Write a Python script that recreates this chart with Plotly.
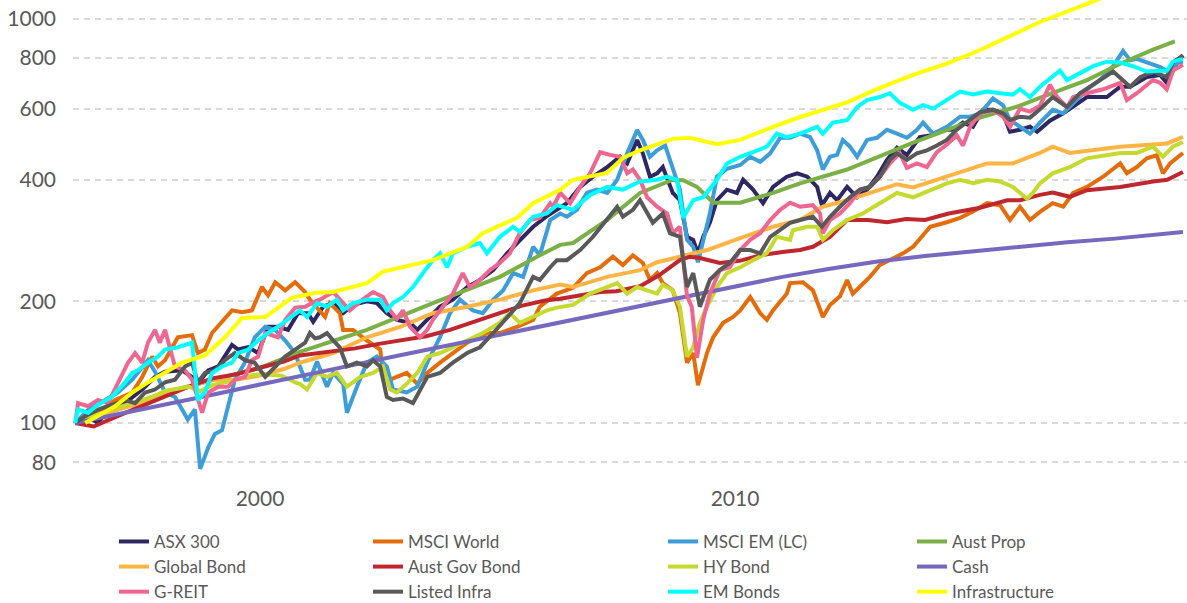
import plotly.graph_objects as go

# ---------------- data (decimal years, index values) ----------------
asx_t = [1996.11, 1996.46, 1996.59, 1996.80, 1997.16, 1997.52, 1997.79, 1998.00, 1998.36, 1998.57, 1998.69, 1998.91,
         1999.12, 1999.41, 1999.54, 1999.75, 1999.96, 2000.17, 2000.38, 2000.59, 2000.80, 2001.01, 2001.12, 2001.33,
         2001.54, 2001.75, 2001.96, 2002.25, 2002.46, 2002.67, 2002.88, 2003.16, 2003.31, 2003.52, 2003.79, 2004.06,
         2004.36, 2004.63, 2004.91, 2005.20, 2005.47, 2005.75, 2006.04, 2006.25, 2006.46, 2006.74, 2007.01, 2007.31,
         2007.58, 2007.73, 2007.94, 2008.06, 2008.21, 2008.36, 2008.48, 2008.69, 2008.84, 2008.99, 2009.12, 2009.22,
         2009.33, 2009.47, 2009.62, 2009.83, 2010.04, 2010.17, 2010.38, 2010.59, 2010.80, 2011.09, 2011.31, 2011.52,
         2011.73, 2011.83, 2012.00, 2012.15, 2012.36, 2012.57, 2012.78, 2012.99, 2013.20, 2013.41, 2013.62, 2013.89,
         2014.11, 2014.38, 2014.59, 2014.80, 2015.01, 2015.22, 2015.43, 2015.64, 2015.79, 2016.00, 2016.21, 2016.36,
         2016.63, 2016.91, 2017.41, 2017.83, 2018.11, 2018.32, 2018.67, 2018.95, 2019.09, 2019.31, 2019.43]
asx_v = [100, 102, 100, 108, 112, 121, 130, 134, 135, 130, 125, 135,
         138, 156, 152, 154, 149, 173, 173, 170, 187, 187, 178, 194,
         198, 187, 196, 200, 198, 187, 180, 177, 170, 180, 194, 202,
         217, 226, 239, 263, 284, 306, 325, 337, 350, 384, 407, 430,
         456, 439, 502, 465, 407, 415, 430, 371, 356, 289, 284, 263,
         289, 313, 356, 378, 371, 400, 378, 350, 384, 407, 415, 407,
         384, 346, 371, 356, 384, 362, 378, 407, 448, 480, 461, 510,
         515, 532, 532, 554, 541, 596, 596, 584, 526, 532, 541, 526,
         560, 584, 641, 641, 680, 680, 718, 727, 695, 780, 813]

world_t = [1996.11, 1996.59, 1996.95, 1997.31, 1997.52, 1997.73, 1997.85, 1998.00, 1998.27, 1998.57, 1998.69, 1998.84,
           1998.99, 1999.20, 1999.41, 1999.62, 1999.83, 2000.04, 2000.17, 2000.32, 2000.53, 2000.74, 2000.95, 2001.05,
           2001.26, 2001.37, 2001.47, 2001.68, 2001.75, 2001.96, 2002.25, 2002.53, 2002.59, 2002.74, 2002.88, 2003.09,
           2003.31, 2003.52, 2003.79, 2004.06, 2004.36, 2004.78, 2005.05, 2005.41, 2005.75, 2005.89, 2006.25, 2006.59,
           2006.88, 2007.16, 2007.43, 2007.64, 2007.85, 2008.06, 2008.21, 2008.36, 2008.48, 2008.69, 2008.84, 2008.99,
           2009.12, 2009.22, 2009.41, 2009.54, 2009.75, 2009.96, 2010.11, 2010.32, 2010.53, 2010.67, 2010.80, 2011.09,
           2011.16, 2011.43, 2011.64, 2011.85, 2012.00, 2012.21, 2012.36, 2012.48, 2012.63, 2012.84, 2013.05, 2013.26,
           2013.54, 2013.75, 2014.11, 2014.46, 2014.74, 2015.01, 2015.31, 2015.58, 2015.79, 2016.00, 2016.21, 2016.42,
           2016.69, 2016.91, 2017.12, 2017.41, 2017.75, 2018.11, 2018.25, 2018.46, 2018.67, 2018.88, 2019.01, 2019.16,
           2019.43]
world_v = [100, 106, 114, 119, 130, 146, 138, 143, 163, 165, 149, 152,
           167, 178, 190, 188, 190, 217, 207, 223, 213, 223, 211, 202,
           190, 183, 198, 187, 170, 170, 160, 152, 135, 128, 130, 133,
           125, 133, 141, 149, 158, 167, 167, 173, 180, 194, 209, 216,
           235, 243, 258, 246, 260, 249, 226, 235, 222, 213, 187, 141,
           149, 124, 149, 163, 177, 183, 190, 205, 187, 180, 190, 209,
           222, 223, 213, 183, 196, 206, 226, 209, 217, 230, 246, 253,
           263, 273, 306, 314, 322, 334, 350, 346, 318, 343, 318, 333,
           350, 343, 371, 384, 407, 439, 415, 430, 452, 460, 415, 439,
           466]

em_t = [1996.11, 1996.46, 1996.74, 1997.01, 1997.31, 1997.52, 1997.64, 1997.79, 1998.00, 1998.21, 1998.48, 1998.63,
        1998.74, 1998.91, 1999.05, 1999.20, 1999.33, 1999.47, 1999.68, 1999.89, 2000.11, 2000.32, 2000.53, 2000.74,
        2000.84, 2000.95, 2001.05, 2001.20, 2001.41, 2001.54, 2001.75, 2001.83, 2002.04, 2002.25, 2002.46, 2002.67,
        2002.80, 2003.09, 2003.31, 2003.52, 2003.79, 2004.00, 2004.21, 2004.48, 2004.69, 2004.91, 2005.12, 2005.33,
        2005.54, 2005.75, 2005.89, 2006.11, 2006.32, 2006.46, 2006.67, 2006.88, 2007.09, 2007.31, 2007.52, 2007.73,
        2007.94, 2008.06, 2008.21, 2008.36, 2008.53, 2008.69, 2008.84, 2008.99, 2009.12, 2009.22, 2009.33, 2009.47,
        2009.62, 2009.83, 2010.11, 2010.32, 2010.53, 2010.74, 2010.95, 2011.16, 2011.37, 2011.58, 2011.73, 2011.85,
        2012.00, 2012.15, 2012.27, 2012.42, 2012.57, 2012.78, 2012.99, 2013.20, 2013.41, 2013.62, 2013.83, 2013.96,
        2014.17, 2014.46, 2014.74, 2014.95, 2015.16, 2015.43, 2015.64, 2015.79, 2016.00, 2016.21, 2016.42, 2016.69,
        2016.91, 2017.12, 2017.41, 2017.68, 2017.96, 2018.17, 2018.32, 2018.46, 2018.67, 2018.95, 2019.16, 2019.31,
        2019.43]
em_v = [100, 110, 114, 119, 128, 138, 143, 134, 119, 116, 102, 108,
        77, 87, 94, 96, 110, 128, 141, 163, 173, 170, 160, 149,
        138, 128, 128, 142, 123, 133, 125, 106, 123, 141, 146, 138,
        121, 119, 123, 141, 163, 187, 202, 190, 187, 202, 213, 235,
        230, 273, 260, 318, 330, 324, 337, 371, 378, 371, 400, 465,
        531, 502, 456, 473, 486, 430, 378, 284, 273, 250, 284, 330,
        407, 426, 435, 456, 443, 465, 508, 508, 520, 510, 473, 424,
        456, 461, 502, 483, 456, 502, 508, 532, 520, 508, 532, 554,
        520, 541, 573, 573, 584, 636, 612, 562, 541, 520, 554, 596,
        584, 620, 670, 706, 764, 833, 790, 797, 780, 760, 736, 780,
        784]

prop_t = [1996.11, 1997.00, 1998.00, 1999.00, 2000.00, 2000.84, 2002.25, 2003.64, 2005.05, 2005.89, 2006.32, 2006.59,
          2007.31, 2008.00, 2008.69, 2008.91, 2009.20, 2009.54, 2010.11, 2010.80, 2011.37, 2012.36, 2013.75, 2015.16,
          2016.00, 2016.69, 2017.41, 2018.11, 2018.80, 2019.26]
prop_v = [100, 108, 119, 128, 137, 150, 170, 198, 230, 260, 276, 279,
          318, 371, 400, 399, 384, 351, 351, 371, 392, 424, 494, 570,
          610, 656, 706, 775, 840, 880]

gbond_t = [1996.11, 1996.50, 1997.00, 1997.50, 1998.00, 1998.50, 1999.00, 1999.50, 2000.00, 2000.50, 2000.84, 2001.54,
           2002.25, 2002.95, 2003.64, 2004.36, 2005.05, 2005.75, 2006.32, 2006.59, 2007.31, 2008.00, 2008.36, 2008.84,
           2009.41, 2010.11, 2010.80, 2011.37, 2011.85, 2012.36, 2013.41, 2013.75, 2014.46, 2015.31, 2015.85, 2016.42,
           2016.69, 2017.05, 2018.11, 2018.80, 2019.10, 2019.43]
gbond_v = [100, 103, 108, 112, 118, 123, 128, 128, 131, 136, 141, 149,
           163, 173, 187, 194, 202, 213, 220, 217, 230, 239, 250, 258,
           268, 287, 306, 318, 343, 356, 390, 383, 407, 439, 439, 466,
           483, 466, 483, 488, 492, 511]

agb_t = [1996.11, 1996.50, 1997.00, 1997.50, 1998.00, 1998.50, 1999.00, 1999.50, 2000.00, 2000.50, 2000.84, 2001.50,
         2002.00, 2002.50, 2002.95, 2003.50, 2004.00, 2004.50, 2005.05, 2005.50, 2006.00, 2006.32, 2007.16, 2007.50,
         2008.00, 2008.40, 2008.84, 2009.05, 2009.26, 2009.68, 2010.10, 2010.53, 2011.00, 2011.37, 2011.64, 2012.00,
         2012.36, 2012.80, 2013.20, 2013.60, 2014.00, 2014.50, 2015.16, 2015.73, 2016.00, 2016.42, 2016.69, 2017.05,
         2017.41, 2018.11, 2018.80, 2019.10, 2019.43]
agb_v = [100, 98, 104, 110, 116, 123, 129, 132, 137, 142, 147, 150,
         153, 157, 160, 164, 170, 178, 188, 195, 201, 203, 211, 212,
         218, 232, 253, 258, 256, 249, 252, 260, 265, 268, 273, 289,
         318, 318, 314, 320, 318, 330, 341, 356, 356, 367, 372, 363,
         377, 384, 396, 400, 418]

hy_t = [1996.11, 1996.50, 1996.88, 1997.31, 1997.73, 1998.00, 1998.50, 1998.74, 1999.00, 1999.50, 1999.75, 2000.00,
        2000.46, 2000.74, 2000.84, 2000.99, 2001.20, 2001.41, 2001.62, 2001.83, 2002.11, 2002.38, 2002.59, 2002.74,
        2002.88, 2003.09, 2003.31, 2003.52, 2003.79, 2004.06, 2004.36, 2004.69, 2005.05, 2005.26, 2005.47, 2005.75,
        2006.04, 2006.25, 2006.59, 2006.95, 2007.31, 2007.52, 2007.73, 2007.94, 2008.15, 2008.36, 2008.48, 2008.69,
        2008.84, 2008.99, 2009.12, 2009.26, 2009.41, 2009.62, 2009.83, 2010.11, 2010.38, 2010.67, 2010.88, 2011.16,
        2011.22, 2011.52, 2011.73, 2011.85, 2012.06, 2012.36, 2012.69, 2013.05, 2013.41, 2013.75, 2014.11, 2014.46,
        2014.74, 2015.01, 2015.31, 2015.58, 2015.85, 2016.15, 2016.27, 2016.42, 2016.69, 2017.05, 2017.41, 2017.75,
        2018.11, 2018.46, 2018.80, 2019.01, 2019.22, 2019.43]
hy_v = [100, 104, 108, 112, 116, 120, 123, 120, 124, 128, 131, 132,
        131, 126, 125, 121, 133, 130, 133, 123, 130, 133, 138, 121,
        119, 125, 133, 146, 149, 154, 160, 167, 177, 187, 177, 183,
        190, 193, 196, 209, 217, 222, 209, 217, 213, 209, 220, 213,
        194, 146, 154, 177, 194, 217, 235, 243, 253, 263, 289, 284,
        300, 306, 306, 284, 300, 318, 330, 350, 371, 362, 378, 392,
        400, 392, 400, 396, 384, 359, 371, 392, 415, 430, 452, 460,
        466, 466, 483, 456, 483, 496]

cash_t = [1996.11, 1997.0, 1998.0, 1999.0, 2000.0, 2001.0, 2002.0, 2003.0, 2004.0, 2005.0, 2006.0, 2007.0,
          2008.0, 2009.0, 2010.0, 2011.0, 2012.0, 2013.0, 2014.0, 2015.0, 2016.0, 2017.0, 2018.0, 2019.0, 2019.43]
cash_v = [100, 105, 111, 117.5, 124.5, 132, 139.5, 147.5, 156, 165, 174.5, 184.5,
          195, 206, 218, 230, 241, 251, 259, 266, 273, 280, 286, 293, 297]

greit_t = [1996.11, 1996.17, 1996.38, 1996.59, 1996.80, 1997.01, 1997.22, 1997.37, 1997.52, 1997.64, 1997.79, 1997.89,
           1998.00, 1998.21, 1998.42, 1998.57, 1998.69, 1998.78, 1998.91, 1999.12, 1999.33, 1999.47, 1999.68, 1999.83,
           1999.96, 2000.11, 2000.38, 2000.53, 2000.74, 2000.95, 2001.16, 2001.26, 2001.54, 2001.75, 2001.89, 2002.11,
           2002.38, 2002.59, 2002.74, 2002.88, 2003.01, 2003.16, 2003.37, 2003.52, 2003.64, 2003.85, 2004.06, 2004.27,
           2004.42, 2004.63, 2004.84, 2005.05, 2005.26, 2005.47, 2005.68, 2005.89, 2006.11, 2006.17, 2006.32, 2006.53,
           2006.74, 2006.95, 2007.16, 2007.37, 2007.58, 2007.73, 2007.85, 2008.00, 2008.15, 2008.36, 2008.57, 2008.69,
           2008.84, 2008.99, 2009.09, 2009.20, 2009.33, 2009.47, 2009.68, 2009.89, 2010.11, 2010.32, 2010.53, 2010.74,
           2010.95, 2011.16, 2011.37, 2011.64, 2011.79, 2011.85, 2012.00, 2012.21, 2012.42, 2012.63, 2012.84, 2013.05,
           2013.26, 2013.47, 2013.62, 2013.83, 2014.04, 2014.25, 2014.46, 2014.67, 2014.80, 2014.95, 2015.16, 2015.43,
           2015.64, 2015.79, 2016.00, 2016.21, 2016.42, 2016.63, 2016.78, 2016.99, 2017.12, 2017.41, 2017.75, 2018.11,
           2018.25, 2018.46, 2018.80, 2018.95, 2019.09, 2019.22, 2019.43]
greit_v = [100, 112, 110, 114, 112, 126, 141, 149, 141, 158, 170, 158,
           170, 138, 135, 128, 114, 106, 119, 123, 123, 128, 130, 143,
           146, 167, 163, 180, 193, 194, 200, 202, 211, 198, 190, 200,
           211, 205, 190, 181, 190, 173, 163, 170, 180, 194, 209, 235,
           217, 226, 239, 249, 263, 295, 318, 322, 350, 343, 371, 350,
           384, 415, 468, 461, 456, 415, 424, 400, 362, 343, 330, 295,
           306, 206, 194, 145, 180, 209, 239, 243, 268, 284, 295, 318,
           337, 351, 343, 346, 330, 295, 318, 330, 350, 378, 384, 407,
           439, 465, 428, 439, 430, 468, 489, 515, 486, 541, 584, 596,
           573, 541, 600, 590, 610, 687, 641, 605, 641, 655, 670, 695,
           630, 655, 706, 695, 670, 745, 770]

linfra_t = [1996.11, 1996.32, 1996.59, 1996.88, 1997.16, 1997.37, 1997.58, 1997.79, 1998.00, 1998.21, 1998.42, 1998.57,
            1998.69, 1998.84, 1999.05, 1999.26, 1999.47, 1999.68, 1999.89, 2000.11, 2000.32, 2000.53, 2000.74, 2000.95,
            2001.05, 2001.16, 2001.26, 2001.41, 2001.54, 2001.68, 2001.83, 2002.04, 2002.25, 2002.38, 2002.53, 2002.67,
            2002.80, 2003.01, 2003.22, 2003.37, 2003.52, 2003.79, 2004.06, 2004.36, 2004.63, 2004.91, 2005.20, 2005.47,
            2005.75, 2005.89, 2006.11, 2006.25, 2006.46, 2006.74, 2007.01, 2007.31, 2007.52, 2007.64, 2007.85, 2008.00,
            2008.15, 2008.27, 2008.48, 2008.63, 2008.84, 2008.99, 2009.12, 2009.26, 2009.47, 2009.68, 2009.89, 2010.11,
            2010.32, 2010.53, 2010.74, 2010.95, 2011.16, 2011.37, 2011.64, 2011.83, 2012.00, 2012.21, 2012.42, 2012.63,
            2012.84, 2013.05, 2013.26, 2013.41, 2013.62, 2013.83, 2014.04, 2014.25, 2014.46, 2014.67, 2014.88, 2015.16,
            2015.43, 2015.64, 2015.79, 2016.00, 2016.21, 2016.42, 2016.69, 2016.99, 2017.26, 2017.54, 2017.96, 2018.32,
            2018.53, 2018.80, 2019.09, 2019.22, 2019.43]
linfra_v = [100, 104, 108, 111, 114, 112, 119, 121, 126, 128, 138, 141,
            126, 133, 135, 143, 149, 143, 141, 130, 138, 146, 152, 158,
            167, 162, 163, 167, 160, 154, 138, 141, 138, 143, 138, 116,
            114, 115, 112, 121, 130, 133, 141, 149, 154, 167, 183, 198,
            230, 226, 243, 253, 253, 268, 289, 318, 343, 324, 337, 356,
            330, 313, 330, 295, 289, 217, 235, 194, 226, 239, 249, 268,
            268, 263, 289, 300, 313, 318, 324, 306, 324, 343, 362, 378,
            384, 407, 448, 465, 448, 465, 473, 486, 502, 532, 554, 588,
            596, 584, 562, 573, 570, 598, 641, 605, 655, 687, 741, 680,
            718, 741, 718, 780, 813]

emb_t = [1996.11, 1996.17, 1996.38, 1996.59, 1996.88, 1997.16, 1997.31, 1997.43, 1997.64, 1997.85, 1998.00, 1998.27,
         1998.57, 1998.69, 1998.84, 1998.99, 1999.20, 1999.41, 1999.54, 1999.75, 1999.96, 2000.17, 2000.38, 2000.59,
         2000.84, 2000.99, 2001.20, 2001.41, 2001.62, 2001.75, 2001.96, 2002.25, 2002.53, 2002.67, 2002.80, 2003.01,
         2003.22, 2003.43, 2003.64, 2003.79, 2003.94, 2004.06, 2004.36, 2004.63, 2004.78, 2005.05, 2005.33, 2005.47,
         2005.75, 2006.04, 2006.25, 2006.59, 2006.95, 2007.31, 2007.64, 2008.00, 2008.36, 2008.57, 2008.78, 2008.91,
         2009.12, 2009.33, 2009.62, 2009.83, 2010.11, 2010.38, 2010.67, 2010.88, 2011.09, 2011.37, 2011.73, 2011.85,
         2012.06, 2012.36, 2012.57, 2012.78, 2013.05, 2013.26, 2013.47, 2013.75, 2013.96, 2014.17, 2014.46, 2014.74,
         2015.01, 2015.31, 2015.58, 2015.85, 2016.00, 2016.21, 2016.42, 2016.63, 2016.84, 2016.99, 2017.26, 2017.54,
         2017.83, 2018.11, 2018.38, 2018.67, 2018.95, 2019.09, 2019.22, 2019.43]
emb_v = [100, 108, 106, 111, 116, 126, 133, 135, 141, 146, 152, 154,
         158, 114, 119, 133, 138, 141, 149, 152, 160, 167, 173, 180,
         190, 183, 198, 194, 202, 190, 198, 202, 202, 190, 198, 205,
         217, 235, 253, 263, 243, 263, 273, 279, 263, 289, 306, 297,
         324, 330, 346, 337, 367, 384, 378, 396, 400, 407, 400, 322,
         356, 362, 400, 439, 456, 468, 483, 520, 510, 520, 541, 520,
         554, 562, 605, 630, 641, 655, 620, 596, 612, 600, 630, 661,
         650, 661, 655, 650, 670, 641, 680, 714, 745, 706, 736, 764,
         784, 780, 764, 741, 745, 745, 784, 797]

infra_t = [1996.32, 1996.95, 1997.31, 1997.64, 1998.36, 1998.84, 1999.26, 1999.62, 2000.11, 2000.67, 2001.16, 2001.54,
           2002.25, 2002.59, 2003.64, 2004.36, 2004.69, 2005.41, 2005.75, 2006.32, 2006.59, 2007.31, 2007.64, 2008.00,
           2008.69, 2009.05, 2009.62, 2010.11, 2010.80, 2011.37, 2012.36, 2013.05, 2013.75, 2014.46, 2015.16, 2015.85,
           2016.42, 2017.41, 2018.00, 2018.50, 2019.00, 2019.43]
infra_v = [100, 110, 119, 126, 141, 147, 163, 182, 183, 204, 210, 211,
           222, 237, 253, 273, 295, 322, 350, 378, 400, 416, 453, 473,
           505, 508, 490, 502, 541, 572, 622, 675, 727, 775, 838, 915,
           983, 1090, 1160, 1230, 1300, 1360]

x_ticks = [2000, 2010]
x_tick_labels = ["2000", "2010"]
y_ticks = [80, 100, 200, 400, 600, 800, 1000]
y_tick_labels = ["80", "100", "200", "400", "600", "800", "1000"]

series = [
    ("ASX 300", asx_t, asx_v, "#2E2762", "legend"),
    ("MSCI World", world_t, world_v, "#E46C0A", "legend2"),
    ("MSCI EM (LC)", em_t, em_v, "#3C9DD9", "legend3"),
    ("Aust Prop", prop_t, prop_v, "#7AB045", "legend4"),
    ("Global Bond", gbond_t, gbond_v, "#FFB444", "legend"),
    ("Aust Gov Bond", agb_t, agb_v, "#C0262E", "legend2"),
    ("HY Bond", hy_t, hy_v, "#C5D92F", "legend3"),
    ("Cash", cash_t, cash_v, "#7667BF", "legend4"),
    ("G-REIT", greit_t, greit_v, "#EF6690", "legend"),
    ("Listed Infra", linfra_t, linfra_v, "#595959", "legend2"),
    ("EM Bonds", emb_t, emb_v, "#00FFFF", "legend3"),
    ("Infrastructure", infra_t, infra_v, "#FFFF00", "legend4"),
]

FONT = "Lato, 'Open Sans', sans-serif"
TXT = "#595959"

fig = go.Figure()
for name, t, v, col, lg in series:
    fig.add_trace(go.Scatter(x=t, y=v, name=name, mode="lines",
                             line=dict(color=col, width=4),
                             legend=lg, hoverinfo="skip"))

PX_W = 1114.0
def lx(px):
    return (px - 73) / PX_W

legend_common = dict(orientation="v", yanchor="top", xanchor="left", y=-0.0915,
                     font=dict(family=FONT, size=17, color=TXT),
                     bgcolor="rgba(0,0,0,0)", tracegroupgap=0, itemclick=False,
                     itemdoubleclick=False)

fig.update_layout(
    width=1187, height=603,
    margin=dict(l=73, r=0, t=0, b=123, autoexpand=False),
    paper_bgcolor="white", plot_bgcolor="white",
    showlegend=True,
    legend=dict(x=lx(114), **legend_common),
    legend2=dict(x=lx(368), **legend_common),
    legend3=dict(x=lx(663), **legend_common),
    legend4=dict(x=lx(912), **legend_common),
    xaxis=dict(range=[1996.063, 2019.516], tickvals=x_ticks, ticktext=x_tick_labels,
               showgrid=False, zeroline=False, showline=False, ticks="", ticklabelstandoff=4,
               tickfont=dict(family=FONT, size=21, color=TXT)),
    yaxis=dict(type="log", range=[1.8589, 3.0470], tickvals=y_ticks, ticktext=y_tick_labels,
               showgrid=True, gridcolor="#D9D9D9", gridwidth=1.5, griddash="6px,5px",
               zeroline=False, showline=False, ticks="", ticklabelstandoff=16,
               tickfont=dict(family=FONT, size=21, color=TXT)),
)

fig.write_html("out.html", config={"displayModeBar": False},
               post_script="document.body.style.margin='0px';document.body.style.overflow='hidden';")
